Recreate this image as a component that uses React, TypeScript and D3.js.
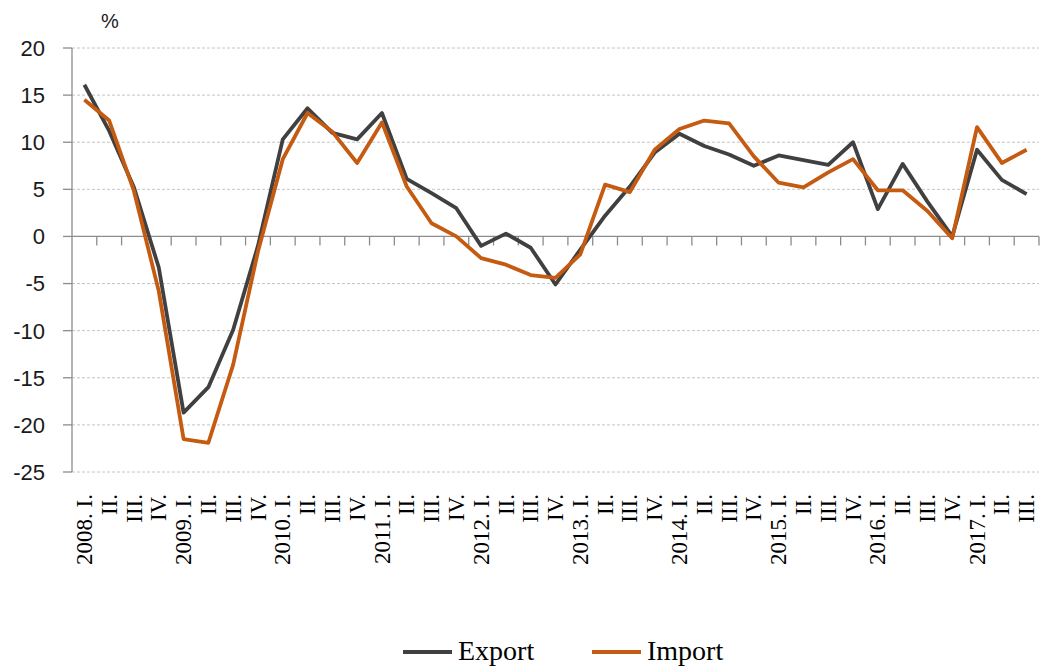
import * as d3 from "d3";

const WIDTH = 1040;
const HEIGHT = 666;

const QUARTERS = [
  "2008. I.", "II.", "III.", "IV.",
  "2009. I.", "II.", "III.", "IV.",
  "2010. I.", "II.", "III.", "IV.",
  "2011. I.", "II.", "III.", "IV.",
  "2012. I.", "II.", "III.", "IV.",
  "2013. I.", "II.", "III.", "IV.",
  "2014. I.", "II.", "III.", "IV.",
  "2015. I.", "II.", "III.", "IV.",
  "2016. I.", "II.", "III.", "IV.",
  "2017. I.", "II.", "III.",
];

const EXPORT = [
  16.1, 11.2, 5.2, -3.3,
  -18.7, -16.0, -9.9, -1.0,
  10.3, 13.6, 11.0, 10.3,
  13.1, 6.1, 4.6, 3.0,
  -1.0, 0.3, -1.2, -5.1,
  -1.4, 2.2, 5.3, 8.9,
  10.9, 9.6, 8.7, 7.5,
  8.6, 8.1, 7.6, 10.0,
  2.9, 7.7, 3.7, 0.0,
  9.2, 6.0, 4.5,
];

const IMPORT = [
  14.5, 12.3, 4.8, -5.8,
  -21.5, -21.9, -13.6, -1.6,
  8.2, 13.1, 11.1, 7.8,
  12.1, 5.3, 1.4, 0.0,
  -2.3, -3.0, -4.1, -4.4,
  -1.9, 5.5, 4.7, 9.2,
  11.4, 12.3, 12.0, 8.5,
  5.7, 5.2, 6.8, 8.2,
  4.9, 4.9, 2.7, -0.2,
  11.6, 7.8, 9.2,
];

const Y_TICKS = [20, 15, 10, 5, 0, -5, -10, -15, -20, -25];

const SERIES = [
  { name: "Export", values: EXPORT, color: "#404040" },
  { name: "Import", values: IMPORT, color: "#c55a11" },
];

const LEFT = 72;
const RIGHT = 1039;
const TOP = 48;
const BOTTOM = 472;

export default function App() {
  const x = d3.scaleBand<string>().domain(QUARTERS.map((q, i) => `${i}`)).range([LEFT, RIGHT]);
  const y = d3.scaleLinear().domain([-25, 20]).range([BOTTOM, TOP]);
  const cx = (i: number) => (x(`${i}`) ?? 0) + x.bandwidth() / 2;

  const line = d3
    .line<number>()
    .x((_, i) => cx(i))
    .y((d) => y(d));

  const boundaries = QUARTERS.map((_, i) => (x(`${i}`) ?? 0) + x.bandwidth());

  return (
    <svg
      width={WIDTH}
      height={HEIGHT}
      style={{ position: "absolute", left: 0, top: 0, background: "#fff" }}
    >
      {/* gridlines */}
      {Y_TICKS.filter((t) => t !== 0).map((t) => (
        <line
          key={`g${t}`}
          x1={LEFT}
          x2={RIGHT}
          y1={y(t)}
          y2={y(t)}
          stroke="#c4c4c4"
          strokeWidth={1}
          strokeDasharray="3,2"
        />
      ))}

      {/* y axis */}
      <line x1={LEFT} x2={LEFT} y1={TOP} y2={BOTTOM} stroke="#8c8c8c" strokeWidth={1.3} />
      {Y_TICKS.map((t) => (
        <g key={`y${t}`}>
          <line x1={LEFT - 9} x2={LEFT} y1={y(t)} y2={y(t)} stroke="#8c8c8c" strokeWidth={1.3} />
          <text
            x={45}
            y={y(t)}
            dy="0.36em"
            textAnchor="end"
            fontFamily="Liberation Sans, Arial, sans-serif"
            fontSize={22}
            fill="#1a1a1a"
          >
            {t}
          </text>
        </g>
      ))}
      <text
        x={110}
        y={28}
        textAnchor="middle"
        fontFamily="Liberation Sans, Arial, sans-serif"
        fontSize={20}
        fill="#1a1a1a"
      >
        %
      </text>

      {/* zero axis with ticks */}
      <line x1={LEFT} x2={RIGHT} y1={y(0)} y2={y(0)} stroke="#8c8c8c" strokeWidth={1.3} />
      {boundaries.map((bx, i) => (
        <line key={`t${i}`} x1={bx} x2={bx} y1={y(0)} y2={y(0) + 9} stroke="#8c8c8c" strokeWidth={1.3} />
      ))}

      {/* series */}
      {SERIES.map((s) => (
        <path
          key={s.name}
          d={line(s.values) ?? ""}
          fill="none"
          stroke={s.color}
          strokeWidth={3.8}
          strokeLinejoin="round"
        />
      ))}

      {/* x labels */}
      {QUARTERS.map((q, i) => (
        <text
          key={`x${i}`}
          transform={`translate(${cx(i)},494) rotate(-90)`}
          textAnchor="end"
          dy="0.33em"
          fontFamily="Liberation Serif, Times New Roman, serif"
          fontSize={23}
          fill="#000"
        >
          {q}
        </text>
      ))}

      {/* legend */}
      {SERIES.map((s, i) => {
        const lx = i === 0 ? 403 : 592;
        return (
          <g key={`l${s.name}`}>
            <line x1={lx} x2={lx + 49} y1={652} y2={652} stroke={s.color} strokeWidth={4} />
            <text
              x={lx + 55}
              y={660}
              fontFamily="Liberation Serif, Times New Roman, serif"
              fontSize={28}
              fill="#000"
            >
              {s.name}
            </text>
          </g>
        );
      })}
    </svg>
  );
}
